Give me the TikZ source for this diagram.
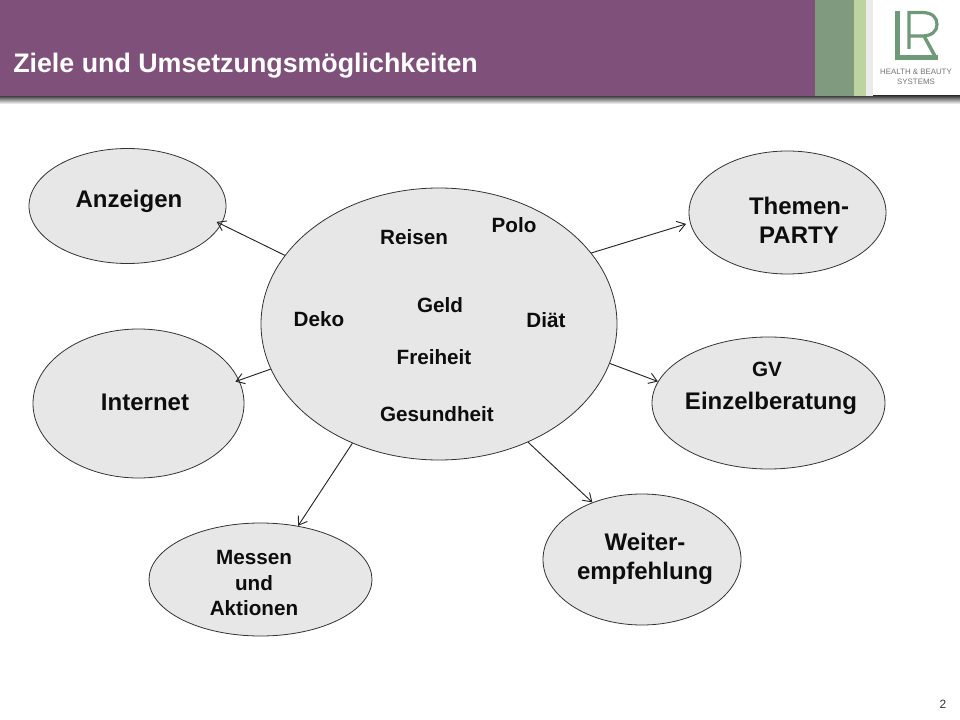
\documentclass[tikz,border=0pt]{standalone}
\usepackage{fontspec}
\setmainfont{Liberation Sans}
\usetikzlibrary{shapes.geometric,arrows.meta}
\definecolor{lila}{HTML}{7F5079}
\definecolor{gruen}{HTML}{7F9A7E}
\definecolor{hellgruen}{HTML}{BDD3A0}
\definecolor{logogruen}{HTML}{6F9A78}
\definecolor{blase}{HTML}{E7E7E7}
\begin{document}
\begin{tikzpicture}[x=0.75pt, y=-0.75pt,
  bubble/.style = {shape=ellipse, draw=black!80, fill=blase, line width=0.6pt, inner sep=0pt},
  blob/.style 2 args = {minimum width=#1*0.75pt, minimum height=#2*0.75pt},
  txt/.style = {font=\bfseries, align=center, inner sep=0pt, text=black!95},
  big/.style = {txt, font=\bfseries\fontsize{18}{21.75}\selectfont},
  small/.style = {txt, font=\bfseries\fontsize{15.5}{19}\selectfont},
  link/.style = {draw=black!85, line width=0.7pt, -{Straight Barb[length=6pt,width=8pt]}}]
  \useasboundingbox (0,0) rectangle (960,720);
  % kopfzeile
  \shade[top color=black!75, bottom color=white] (0,96) rectangle (960,104);
  \fill[lila] (0,0) rectangle (815,96);
  \fill[gruen] (815,0) rectangle (854,96);
  \fill[hellgruen] (854,0) rectangle (866,96);
  \fill[black!8] (866,0) rectangle (873,96);
  \node[txt, anchor=west, text=white, font=\bfseries\fontsize{20.1}{24}\selectfont] (titel) at (13,66) {Ziele und Umsetzungsmöglichkeiten};
  % logo
  \draw[logogruen, line width=3.4pt, line cap=butt] (897.5,11) -- (897.5,57.5) -- (938,57.5);
  \draw[logogruen, line width=2.4pt] (909,49) -- (909,12.5) -- (922,12.5)
    .. controls (933,12.5) and (937,18) .. (937,24.5)
    .. controls (937,31) and (932,36) .. (922,36) -- (909,36);
  \draw[logogruen, line width=2.6pt] (924,36) -- (936,58);
  \node[txt, font=\fontsize{5.9}{7.5}\selectfont, text=black!55] (logotext) at (916,77) {HEALTH \& BEAUTY\\SYSTEMS};
  % blasen
  \node[bubble, blob={356}{272}] (mitte) at (439,324) {};
  \node[bubble, blob={197}{115}] (anzeigen) at (127.5,206) {};
  \node[bubble, blob={197}{123}] (themen) at (787.5,212.5) {};
  \node[bubble, blob={211}{149}] (internet) at (138.5,403.5) {};
  \node[bubble, blob={233}{132}] (einzel) at (768.5,403) {};
  \node[bubble, blob={198}{131}] (weiter) at (642,559.5) {};
  \node[bubble, blob={223}{113}] (messen) at (260.5,579.5) {};
  % pfeile
  \draw[link, shorten >=-4pt] (mitte.156.8) -- (anzeigen.-11.5);
  \draw[link, shorten >=-3pt] (mitte.195.5) -- (internet.13.8);
  \draw[link] (mitte.234) -- (messen.55.5);
  \draw[link] (mitte.-53) -- (weiter.131.6);
  \draw[link] (mitte.-13.6) -- (einzel.169);
  \draw[link, shorten >=3pt] (mitte.25.5) -- (themen.186);
  % texte
  \node[big] (tanzeigen) at (129,201) {Anzeigen};
  \node[big] (tthemen) at (799,220) {Themen-\\PARTY};
  \node[big] (tinternet) at (145,402) {Internet};
  \node[small] (tgv) at (767,369) {GV};
  \node[big] (teinzel) at (771,403) {Einzelberatung};
  \node[big] (tweiter) at (645,559) {Weiter-\\empfehlung};
  \node[small] (tmessen) at (254,583) {Messen\\und\\Aktionen};
  \node[small] (reisen) at (414,237) {Reisen};
  \node[small] (polo) at (514,225) {Polo};
  \node[small] (geld) at (440,305) {Geld};
  \node[small] (deko) at (319,319) {Deko};
  \node[small] (diaet) at (546,320) {Diät};
  \node[small] (freiheit) at (434,357) {Freiheit};
  \node[small] (gesundheit) at (437,414) {Gesundheit};
  \node[txt, font=\fontsize{9}{11}\selectfont, text=black!80] (seite) at (943,704) {2};
\end{tikzpicture}
\end{document}
